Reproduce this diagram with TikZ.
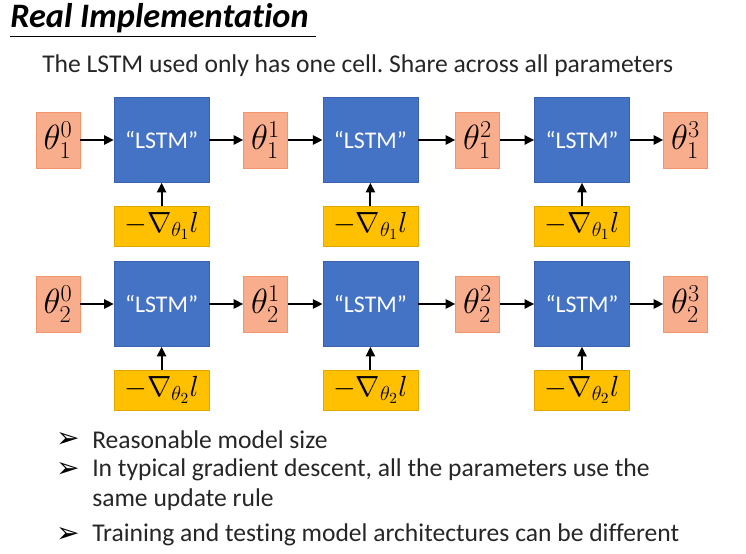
\documentclass[tikz,border=0pt]{standalone}
\usepackage{fontspec}
\setmainfont{Carlito}[Ligatures=NoCommon]
\newfontfamily\dingfont{DejaVu Sans}
\usetikzlibrary{arrows.meta,positioning,calc}
\definecolor{parFill}{HTML}{F8AD8C}
\definecolor{parDraw}{HTML}{F2946C}
\definecolor{cellFill}{HTML}{4472C4}
\definecolor{cellDraw}{HTML}{3A63AE}
\definecolor{gradFill}{HTML}{FFC000}
\definecolor{gradDraw}{HTML}{E3A800}
\tikzset{
  par/.style  ={draw=parDraw, fill=parFill, line width=0.5pt, minimum width=1.1cm, minimum height=1.4cm, inner sep=0pt, font=\fontsize{23}{25}\selectfont},
  cell/.style ={draw=cellDraw, fill=cellFill, line width=0.5pt, minimum width=2.375cm, minimum height=2.125cm, inner sep=0pt, text=white, font=\fontsize{17}{20}\selectfont},
  grad/.style ={draw=gradDraw, fill=gradFill, line width=0.5pt, minimum width=2.375cm, minimum height=1.0cm, inner sep=0pt, font=\fontsize{22}{24}\selectfont},
  arr/.style  ={-{Triangle[length=2.4mm, width=2.3mm]}, line width=1.4pt},
  txt/.style  ={anchor=west, inner sep=0pt, font=\fontsize{18.2}{21}\selectfont, text=black!85},
}
\newcommand{\bul}{{\dingfont\fontsize{20}{22}\selectfont ➢}}
\frenchspacing

\begin{document}
\begin{tikzpicture}
  \useasboundingbox (0,0) rectangle (18.65,-13.825);

  \node[anchor=west, inner sep=0pt, font=\fontsize{24.4}{28}\selectfont\bfseries\itshape] (title) at (0.25,-0.45) {Real Implementation};
  \draw[line width=0.6pt] (0.25,-0.9) -- (7.9,-0.9);
  \node[txt] (sub) at (1.05,-1.65) {The LSTM used only has one cell. Share across all parameters};

  % two parameter rows, three update steps each
  \foreach \r/\y in {1/0, 2/-4.1} {
    \node[par]  (p\r0) at (1.45,  -3.5+\y)  {$\theta_\r^0$};
    \node[cell] (c\r1) at (4.04,  -3.5+\y)  {“LSTM”};
    \node[par]  (p\r1) at (6.64,  -3.5+\y)  {$\theta_\r^1$};
    \node[cell] (c\r2) at (9.26,  -3.5+\y)  {“LSTM”};
    \node[par]  (p\r2) at (11.94, -3.5+\y)  {$\theta_\r^2$};
    \node[cell] (c\r3) at (14.55, -3.5+\y)  {“LSTM”};
    \node[par]  (p\r3) at (17.14, -3.5+\y)  {$\theta_\r^3$};
    \node[grad] (g\r1) at (4.04,  -5.65+\y) {$-\nabla_{\theta_\r}l$};
    \node[grad] (g\r2) at (9.26,  -5.65+\y) {$-\nabla_{\theta_\r}l$};
    \node[grad] (g\r3) at (14.55, -5.65+\y) {$-\nabla_{\theta_\r}l$};
    \draw[arr] (p\r0) -- (c\r1); \draw[arr] (c\r1) -- (p\r1);
    \draw[arr] (p\r1) -- (c\r2); \draw[arr] (c\r2) -- (p\r2);
    \draw[arr] (p\r2) -- (c\r3); \draw[arr] (c\r3) -- (p\r3);
    \draw[arr] (g\r1) -- (c\r1); \draw[arr] (g\r2) -- (c\r2); \draw[arr] (g\r3) -- (c\r3);
  }

  \node[txt] (b1) at (2.3,-11.0)   {Reasonable model size};
  \node[txt] (b2) at (2.3,-11.75)  {In typical gradient descent, all the parameters use the};
  \node[txt] (b2b) at (2.3,-12.5)  {same update rule};
  \node[txt] (b3) at (2.3,-13.375) {Training and testing model architectures can be different};
  \foreach \b in {b1,b2,b3}
    \node[anchor=east, inner sep=0pt] at ($(\b.west)+(-0.3,0)$) {\bul};
\end{tikzpicture}
\end{document}
